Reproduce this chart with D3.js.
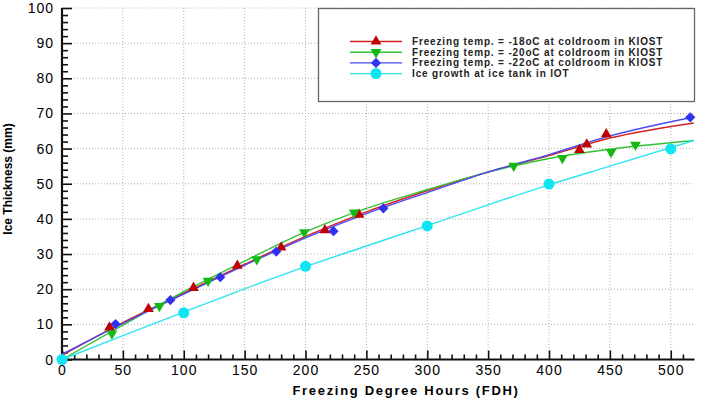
<!DOCTYPE html>
<html>
<head>
<meta charset="utf-8">
<script src="https://cdn.jsdelivr.net/npm/d3@7"></script>
<style>
  body { margin: 0; background: #fff; }
  svg { display: block; font-family: "Liberation Sans", Arial, sans-serif; }
</style>
</head>
<body>
<div id="chart"></div>
<script>
// Measured points (FDH, mm)
const redX = [39, 71, 108, 144, 180, 216, 244, 425, 431, 447];
const redY = [9.1, 14.4, 20.4, 26.7, 31.9, 36.8, 41.2, 59.6, 61.2, 64.1];
const greenX = [41, 80, 120, 160, 199, 240, 371, 411, 451, 471];
const greenY = [7.4, 15.2, 22.4, 28.5, 36.2, 41.8, 55.1, 57.3, 59.0, 61.1];
const blueX = [44, 89, 130, 176, 223, 264, 516];
const blueY = [10.1, 16.9, 23.4, 30.7, 36.5, 43.0, 68.9];
const cyanX = [0, 100, 200, 300, 400, 500];
const cyanY = [0, 13.3, 26.5, 38.0, 49.9, 59.9];

// Fitted curves
const fitX = [0, 50, 100, 150, 200, 250, 300, 350, 400, 450, 519];
const redFit = [1.2, 10.5, 18.9, 27.1, 35.0, 42.0, 48.0, 53.4, 58.0, 63.0, 67.3];
const greenFit = [0, 9.8, 19.3, 28.0, 36.3, 43.0, 48.3, 53.3, 57.2, 59.8, 62.3];
const blueFit = [1.5, 10.3, 18.6, 26.8, 34.6, 41.5, 47.5, 53.3, 58.3, 63.6, 69.0];
const cyanFit = [0, 6.8, 13.5, 20.1, 26.4, 32.3, 38.1, 44.0, 49.7, 55.0, 62.3];

const xTicks = [0, 50, 100, 150, 200, 250, 300, 350, 400, 450, 500];
const yTicks = [0, 10, 20, 30, 40, 50, 60, 70, 80, 90, 100];

const legendLabels = [
    "Freezing temp. = -18oC at coldroom in KIOST",
    "Freezing temp. = -20oC at coldroom in KIOST",
    "Freezing temp. = -22oC at coldroom in KIOST",
    "Ice growth at ice tank in IOT"
];

const width = 702;
const height = 399;
const plot = { left: 62, right: 694.5, top: 8, bottom: 359.5 };

const svg = d3.select("#chart")
    .append("svg")
    .attr("width", width)
    .attr("height", height);

const x = d3.scaleLinear().domain([0, 519.5]).range([plot.left, plot.right]);
const y = d3.scaleLinear().domain([0, 100]).range([plot.bottom, plot.top]);

// Grid
svg.append("g")
    .selectAll("line")
    .data(xTicks.slice(1))
    .enter()
    .append("line")
    .attr("x1", d => x(d)).attr("x2", d => x(d))
    .attr("y1", plot.top).attr("y2", plot.bottom)
    .attr("stroke", "#b0b0b0")
    .attr("stroke-dasharray", "1,2");

svg.append("g")
    .selectAll("line")
    .data(yTicks.slice(1))
    .enter()
    .append("line")
    .attr("x1", plot.left).attr("x2", plot.right)
    .attr("y1", d => y(d)).attr("y2", d => y(d))
    .attr("stroke", "#b0b0b0")
    .attr("stroke-dasharray", "1,2");

// Axes (ticks point inward)
const xAxis = svg.append("g")
    .attr("transform", `translate(0, ${plot.bottom})`)
    .call(d3.axisTop(x).tickValues(d3.range(0, 520, 10)).tickSize(5).tickFormat(""));
xAxis.selectAll(".tick line")
    .filter(d => d % 50 === 0)
    .attr("y2", -9);

const yAxis = svg.append("g")
    .attr("transform", `translate(${plot.left}, 0)`)
    .call(d3.axisRight(y).tickValues(d3.range(0, 101, 2)).tickSize(6).tickFormat(""));
yAxis.selectAll(".tick line")
    .filter(d => d % 10 === 0)
    .attr("x2", 10);

[xAxis, yAxis].forEach(a => {
    a.select(".domain").attr("stroke", "#111").attr("stroke-width", 2.2);
    a.selectAll(".tick line").attr("stroke", "#111").attr("stroke-width", 1.6);
});
xAxis.select(".domain").attr("d", `M${plot.left},0H${plot.right}`);
yAxis.select(".domain").attr("d", `M0,${plot.bottom}V${plot.top}`);

// Tick labels
svg.append("g")
    .selectAll("text")
    .data(xTicks)
    .enter()
    .append("text")
    .attr("x", d => x(d) + 0.5)
    .attr("y", 375)
    .attr("text-anchor", "middle")
    .style("font-size", "14px")
    .style("letter-spacing", "1px")
    .text(d => d);

svg.append("g")
    .selectAll("text")
    .data(yTicks)
    .enter()
    .append("text")
    .attr("x", 54)
    .attr("y", d => y(d) + 5)
    .attr("text-anchor", "end")
    .style("font-size", "14px")
    .style("letter-spacing", "1px")
    .text(d => d);

// Axis titles
svg.append("text")
    .attr("x", 406)
    .attr("y", 395)
    .attr("text-anchor", "middle")
    .style("font-size", "13px")
    .style("font-weight", "bold")
    .style("letter-spacing", "1.7px")
    .text("Freezing Degree Hours (FDH)");

svg.append("text")
    .attr("transform", "rotate(-90)")
    .attr("x", -179)
    .attr("y", 12)
    .attr("text-anchor", "middle")
    .style("font-size", "12px")
    .style("font-weight", "bold")
    .text("Ice Thickness (mm)");

// Series
const series = [
    { name: legendLabels[0], xs: redX, ys: redY, fit: redFit, line: "#d42020", fill: "#c00000", symbol: d3.symbolTriangle, size: 50, rotate: 0 },
    { name: legendLabels[1], xs: greenX, ys: greenY, fit: greenFit, line: "#33c233", fill: "#13b813", symbol: d3.symbolTriangle, size: 50, rotate: 180 },
    { name: legendLabels[2], xs: blueX, ys: blueY, fit: blueFit, line: "#4a4af0", fill: "#3232ee", symbol: d3.symbolSquare, size: 52, rotate: 45 },
    { name: legendLabels[3], xs: cyanX, ys: cyanY, fit: cyanFit, line: "#2ee4f2", fill: "#10e6f2", symbol: d3.symbolCircle, size: 95, rotate: 0 }
];

const line = d3.line()
    .x(d => x(d[0]))
    .y(d => y(d[1]))
    .curve(d3.curveMonotoneX);

series.forEach(s => {
    svg.append("path")
        .datum(fitX.map((v, i) => [v, s.fit[i]]))
        .attr("fill", "none")
        .attr("stroke", s.line)
        .attr("stroke-width", 1.4)
        .attr("d", line);
});

series.forEach(s => {
    svg.append("g")
        .selectAll("path")
        .data(s.xs.map((v, i) => [v, s.ys[i]]))
        .enter()
        .append("path")
        .attr("transform", d => `translate(${x(d[0])}, ${y(d[1])}) rotate(${s.rotate})`)
        .attr("d", d3.symbol().type(s.symbol).size(s.size))
        .attr("fill", s.fill);
});

// Legend
const legend = svg.append("g");
legend.append("rect")
    .attr("x", 318.5).attr("y", 8.5)
    .attr("width", 376).attr("height", 93)
    .attr("fill", "#fff")
    .attr("stroke", "#666")
    .attr("stroke-width", 1.3);

series.forEach((s, i) => {
    const ly = 41.5 + i * 10.7;
    legend.append("line")
        .attr("x1", 350).attr("x2", 402)
        .attr("y1", ly).attr("y2", ly)
        .attr("stroke", s.line)
        .attr("stroke-width", 1.4);
    legend.append("path")
        .attr("transform", `translate(376, ${ly}) rotate(${s.rotate})`)
        .attr("d", d3.symbol().type(s.symbol).size(s.size))
        .attr("fill", s.fill);
    legend.append("text")
        .attr("x", 412)
        .attr("y", ly + 3.5)
        .style("font-size", "10px")
        .style("font-weight", "bold")
        .style("letter-spacing", "0.85px")
        .attr("fill", "#222")
        .text(s.name);
});
</script>
</body>
</html>
